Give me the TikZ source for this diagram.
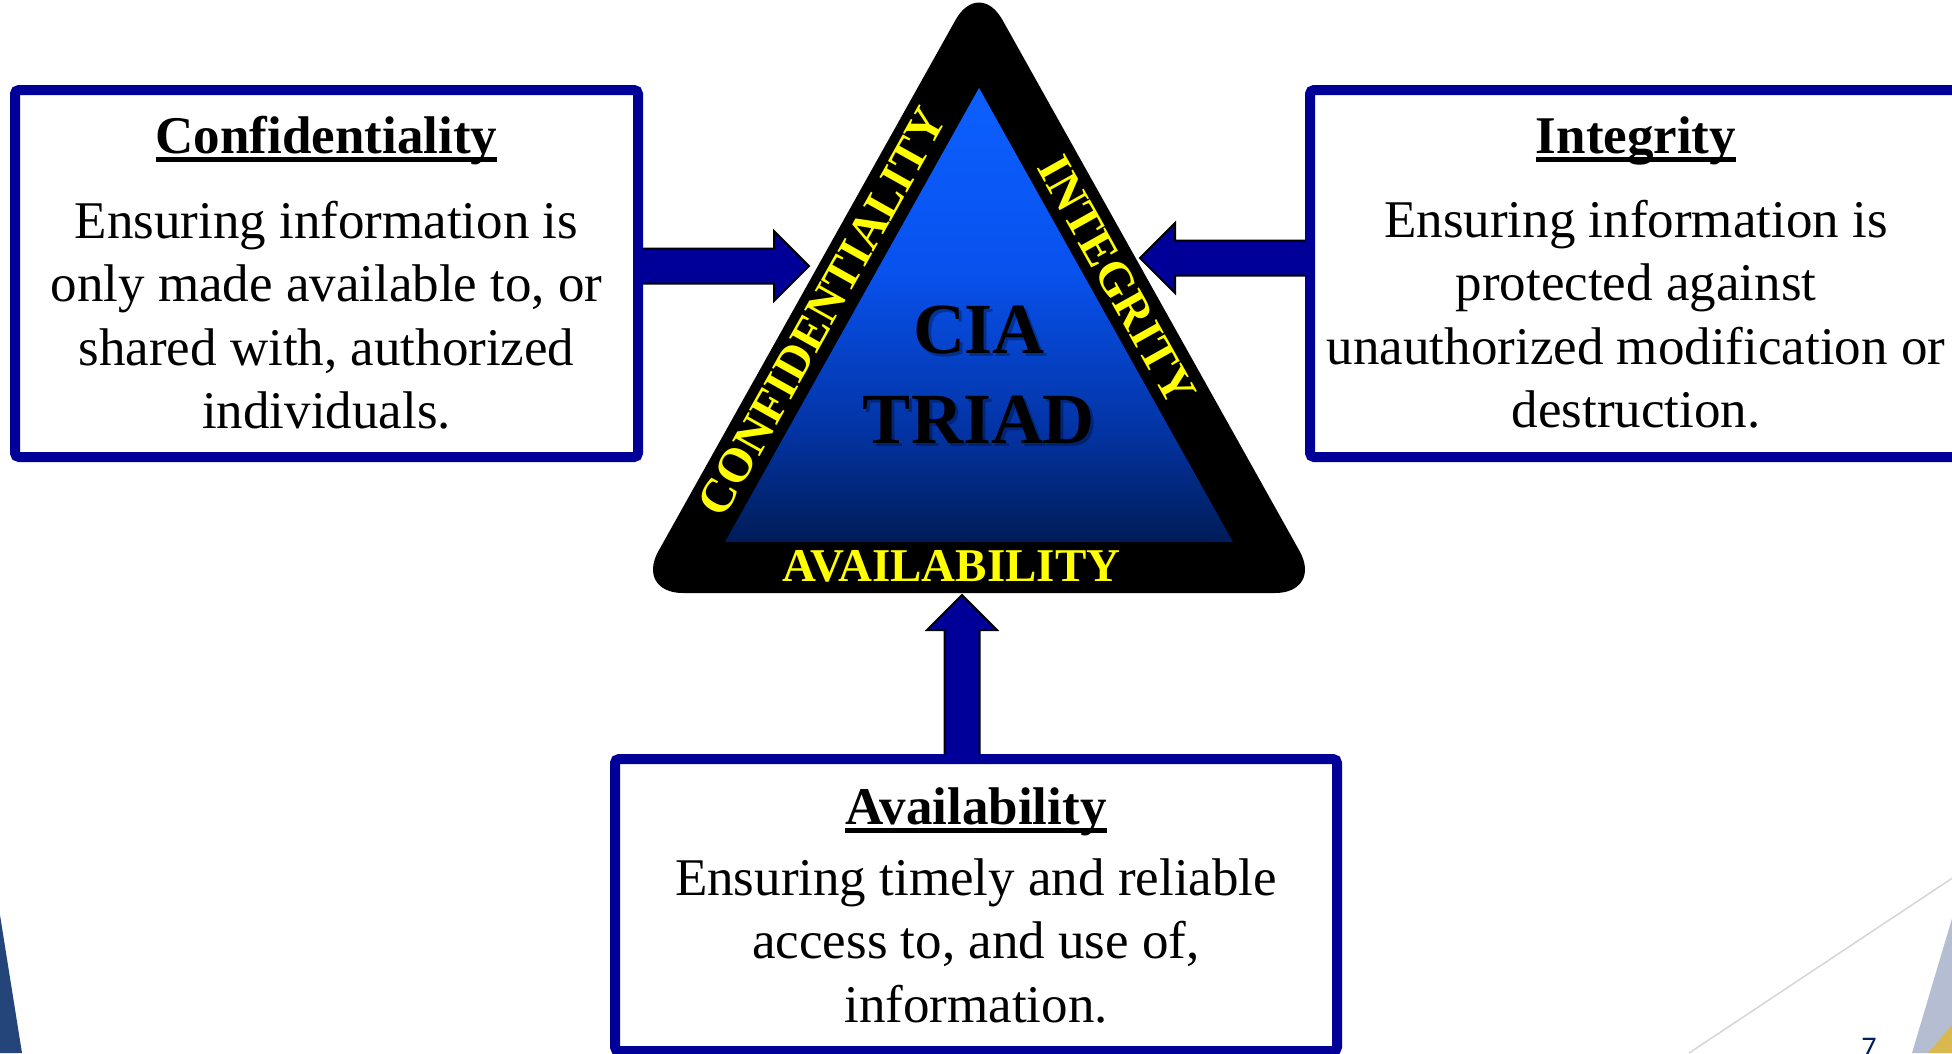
\documentclass[tikz,border=0pt]{standalone}
\usepackage{fontspec}
\setmainfont{Liberation Serif}
\newfontfamily\numfont{Carlito}
\usetikzlibrary{calc,backgrounds}
\definecolor{boxnavy}{RGB}{0,0,153}
\definecolor{tritop}{RGB}{12,96,255}
\definecolor{triupper}{RGB}{8,82,238}
\definecolor{trilower}{RGB}{3,52,165}
\definecolor{tribot}{RGB}{0,28,88}
\definecolor{cyellow}{RGB}{255,255,0}
\definecolor{decoblue}{RGB}{36,69,122}
\definecolor{decogray}{RGB}{180,189,209}
\definecolor{decogold}{RGB}{217,184,80}
\definecolor{decoline}{RGB}{214,214,214}
\definecolor{pagenum}{RGB}{0,32,96}
\pgfdeclareverticalshading{trishade}{100bp}{color(0bp)=(tribot); color(25bp)=(tribot); color(37.5bp)=(trilower); color(55bp)=(triupper); color(75bp)=(tritop); color(100bp)=(tritop)}
\tikzset{
  infobox/.style={draw=boxnavy, line width=10pt, fill=white, rounded corners=4pt, inner sep=0pt},
  boxtitle/.style={font=\fontsize{53}{63.5}\selectfont\bfseries, inner sep=0pt, anchor=base},
  boxbody/.style={font=\fontsize{53}{63.5}\selectfont, inner sep=0pt, anchor=base},
  titlerule/.style={line width=5pt},
  sidelabel/.style={text=cyellow, font=\fontsize{48}{48}\selectfont\bfseries, inner sep=0pt, text height=31.8pt, text depth=0pt},
  ciatext/.style={font=\fontsize{72}{90}\selectfont\bfseries, inner sep=0pt, anchor=base},
  blockarrowsty/.style={fill=boxnavy, draw=black, line width=2pt, line join=miter},
}
\newcommand\blockarrow[2]{%
  \draw[blockarrowsty]
    ($(#1)!17.5pt!-90:(#2)$) --
    ($(#2)!35pt!(#1)!17.5pt!-90:(#2)$) --
    ($(#2)!35pt!(#1)!35pt!-90:(#2)$) --
    (#2) --
    ($(#2)!35pt!(#1)!35pt!90:(#2)$) --
    ($(#2)!35pt!(#1)!17.5pt!90:(#2)$) --
    ($(#1)!17.5pt!90:(#2)$) -- cycle;}
\newcommand\ruleunder[1]{%
  \draw[titlerule] ([yshift=-6.5pt]#1.base west) -- ([yshift=-6.5pt]#1.base east);}
\begin{document}
\begin{tikzpicture}[x=1pt,y=-1pt]
\useasboundingbox (0,0) rectangle (1952,1053);
\begin{scope}[on background layer]
  \fill[white] (0,0) rectangle (1952,1053);
\end{scope}
\clip (0,0) rectangle (1952,1053);

% corner decorations
\fill[decoblue] (0,915) -- (22,1053) -- (0,1053) -- cycle;
\draw[decoline, line width=1.5pt] (1689,1053) -- (1960,873);
\fill[decogray] (1956,905) -- (1912,1053) -- (1956,1053) -- cycle;
\fill[decogold] (1956,1020) -- (1928,1053) -- (1956,1053) -- cycle;
\node[font=\numfont\fontsize{30}{30}\selectfont, text=pagenum, anchor=base, inner sep=0pt] (pnum) at (1869,1057) {7};

% CIA triangle
\fill[black, rounded corners=48pt] (979,593) -- (1323,593) -- (979,-22) -- (635,593) -- cycle;
\shade[shading=trishade] (979,88) -- (1233,542) -- (725,542) -- cycle;
\node[ciatext, text=black, opacity=0.3] (ciashadow) at (982,356) {\begin{tabular}[t]{@{}c@{}}CIA\\TRIAD\end{tabular}};
\node[ciatext] (cia) at (979,353) {\begin{tabular}[t]{@{}c@{}}CIA\\TRIAD\end{tabular}};
\node[sidelabel, rotate=60.8] (conflabel) at (822,312) {CONFIDENTIALITY};
\node[sidelabel, rotate=-60.8] (integlabel) at (1117,280) {INTEGRITY};
\node[sidelabel, font=\fontsize{47}{47}\selectfont\bfseries, anchor=base] (availlabel) at (951.5,581) {AVAILABILITY};

% boxes
\node[infobox, minimum width=623pt, minimum height=367pt] (confbox) at (326.5,273.5) {};
\node[infobox, minimum width=680pt, minimum height=367pt, anchor=west] (integbox) at (1305,273.5) {};
\node[infobox, minimum width=722pt, minimum height=292pt] (availbox) at (976,905) {};

\node[boxtitle] (conftitle) at (326.5,153) {Confidentiality};
\ruleunder{conftitle}
\node[boxbody] (confbody) at (326.5,238) {\begin{tabular}[t]{@{}c@{}}Ensuring information is\\only made available to, or\\shared with, authorized\\individuals.\end{tabular}};

\node[boxtitle] (integtitle) at (1636,153) {Integrity};
\ruleunder{integtitle}
\node[boxbody] (integbody) at (1636,237) {\begin{tabular}[t]{@{}c@{}}Ensuring information is\\protected against\\unauthorized modification or\\destruction.\end{tabular}};

\node[boxtitle] (availtitle) at (976,824) {Availability};
\ruleunder{availtitle}
\node[boxbody] (availbody) at (976,895) {\begin{tabular}[t]{@{}c@{}}Ensuring timely and reliable\\access to, and use of,\\information.\end{tabular}};

% arrows (behind boxes and triangle)
\coordinate (ltip) at (809,266);
\coordinate (rtip) at (1140,258);
\coordinate (btip) at (962,595);
\coordinate (lstart) at (confbox.center |- ltip);
\coordinate (rstart) at (integbox.center |- rtip);
\coordinate (bstart) at (availbox.center -| btip);
\begin{scope}[on background layer]
  \blockarrow{lstart}{ltip}
  \blockarrow{rstart}{rtip}
  \blockarrow{bstart}{btip}
\end{scope}
\end{tikzpicture}
\end{document}
